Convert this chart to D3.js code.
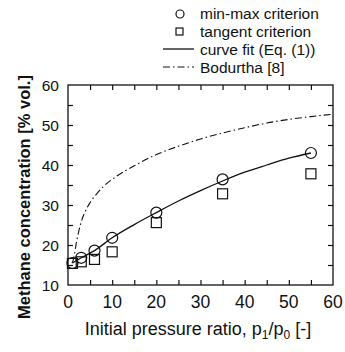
<!DOCTYPE html>
<html>
<head>
<meta charset="utf-8">
<script src="https://cdn.jsdelivr.net/npm/d3@7"></script>
<style>
body { margin: 0; background: #fff; }
text { font-family: "Liberation Sans", Arial, sans-serif; fill: #111; }
</style>
</head>
<body>
<div id="chart"></div>
<script>
// pressure ratios of the measurements
var ratios = [1, 3, 6, 10, 20, 35, 55];
var minMax = [15.5, 16.8, 18.6, 21.8, 28.1, 36.4, 43.0];
var tangent = [15.4, 15.8, 16.4, 18.3, 25.6, 32.8, 37.8];

// curve fit (Eq. (1))
var fitX = [1, 3, 6, 10, 15, 20, 25, 30, 35, 40, 45, 50, 55];
var fitY = [15.5, 16.8, 18.6, 21.8, 25.1, 28.1, 31.0, 33.6, 36.0, 38.2, 40.0, 41.7, 43.0];

// Bodurtha [8]
var bodX = [0.9, 1.2, 2, 3, 4, 5, 6.5, 8, 11, 15, 20, 25, 30, 35, 40, 45, 50, 55, 60];
var bodY = [15.5, 16.3, 21.2, 25.8, 28.6, 30.6, 32.8, 34.6, 37.2, 39.8, 42.6, 44.7, 46.5, 48.0, 49.3, 50.5, 51.4, 52.1, 52.7];

var xTicks = [0, 10, 20, 30, 40, 50, 60];
var yTicks = [10, 20, 30, 40, 50, 60];

var W = 345, H = 352;
var m = {left: 68, right: 333, top: 85, bottom: 285};

var svg = d3.select("#chart").append("svg")
    .attr("width", W).attr("height", H);

var x = d3.scaleLinear().domain([0, 60]).range([m.left, m.right]);
var y = d3.scaleLinear().domain([10, 60]).range([m.bottom, m.top]);

// frame
svg.append("rect")
    .attr("x", m.left).attr("y", m.top)
    .attr("width", m.right - m.left).attr("height", m.bottom - m.top)
    .attr("fill", "none").attr("stroke", "#111").attr("stroke-width", 1.3);

// inward ticks on all four sides
function ticks(axis, scale, vals, len, translate) {
    var g = svg.append("g").attr("transform", translate)
        .call(axis(scale).tickValues(vals).tickSize(-len).tickFormat(""));
    g.select(".domain").remove();
    g.selectAll("line").attr("stroke", "#111").attr("stroke-width", 1.2);
}
var xMinor = d3.range(5, 60, 5);
var yMinor = d3.range(15, 60, 5);
ticks(d3.axisBottom, x, xMinor, 5, "translate(0," + m.bottom + ")");
ticks(d3.axisTop, x, xMinor, 5, "translate(0," + m.top + ")");
ticks(d3.axisLeft, y, yMinor, 5, "translate(" + m.left + ",0)");
ticks(d3.axisRight, y, yMinor, 5, "translate(" + m.right + ",0)");

// tick labels
svg.append("g").selectAll("text").data(xTicks).enter().append("text")
    .attr("x", function(d) { return x(d); })
    .attr("y", m.bottom + 23)
    .attr("text-anchor", "middle")
    .attr("font-size", 17.5)
    .text(function(d) { return d; });
svg.append("g").selectAll("text").data(yTicks).enter().append("text")
    .attr("x", m.left - 9)
    .attr("y", function(d) { return y(d) + 5.5; })
    .attr("text-anchor", "end")
    .attr("font-size", 15.5)
    .text(function(d) { return d; });

// axis titles
svg.append("text")
    .attr("x", 198).attr("y", 335)
    .attr("text-anchor", "middle")
    .attr("font-size", 18)
    .html("Initial pressure ratio, p<tspan font-size='12' dy='4'>1</tspan><tspan dy='-4'>/p</tspan><tspan font-size='12' dy='4'>0</tspan><tspan dy='-4'> [-]</tspan>");
svg.append("text")
    .attr("transform", "translate(30,197) rotate(-90)")
    .attr("text-anchor", "middle")
    .attr("font-size", 16.5)
    .attr("font-weight", "bold")
    .text("Methane concentration [% vol.]");

var line = d3.line()
    .x(function(d) { return x(d[0]); })
    .y(function(d) { return y(d[1]); })
    .curve(d3.curveMonotoneX);

svg.append("path")
    .datum(fitX.map(function(v, i) { return [v, fitY[i]]; }))
    .attr("d", line)
    .attr("fill", "none").attr("stroke", "#111").attr("stroke-width", 1.3);

svg.append("path")
    .datum(bodX.map(function(v, i) { return [v, bodY[i]]; }))
    .attr("d", line)
    .attr("fill", "none").attr("stroke", "#111").attr("stroke-width", 1.1)
    .attr("stroke-dasharray", "7,3,1.5,3");

// markers
svg.append("g").selectAll("rect").data(ratios).enter().append("rect")
    .attr("x", function(d) { return x(d) - 5; })
    .attr("y", function(d, i) { return y(tangent[i]) - 5; })
    .attr("width", 10).attr("height", 10)
    .attr("fill", "none").attr("stroke", "#111").attr("stroke-width", 1.2);
svg.append("g").selectAll("circle").data(ratios).enter().append("circle")
    .attr("cx", function(d) { return x(d); })
    .attr("cy", function(d, i) { return y(minMax[i]); })
    .attr("r", 5.5)
    .attr("fill", "none").attr("stroke", "#111").attr("stroke-width", 1.2);

// legend
var lg = svg.append("g");
var labels = ["min-max criterion", "tangent criterion", "curve fit (Eq. (1))", "Bodurtha [8]"];
lg.selectAll("text").data(labels).enter().append("text")
    .attr("x", 200)
    .attr("y", function(d, i) { return 19 + i * 18; })
    .attr("font-size", 15.5)
    .text(function(d) { return d; });
lg.append("circle").attr("cx", 180).attr("cy", 14).attr("r", 4)
    .attr("fill", "none").attr("stroke", "#111").attr("stroke-width", 1.2);
lg.append("rect").attr("x", 176).attr("y", 28).attr("width", 7).attr("height", 7)
    .attr("fill", "none").attr("stroke", "#111").attr("stroke-width", 1.2);
lg.append("line").attr("x1", 163).attr("x2", 194).attr("y1", 49).attr("y2", 49)
    .attr("stroke", "#111").attr("stroke-width", 1.3);
lg.append("line").attr("x1", 163).attr("x2", 194).attr("y1", 67).attr("y2", 67)
    .attr("stroke", "#111").attr("stroke-width", 1.1)
    .attr("stroke-dasharray", "7,3,1.5,3");
</script>
</body>
</html>
